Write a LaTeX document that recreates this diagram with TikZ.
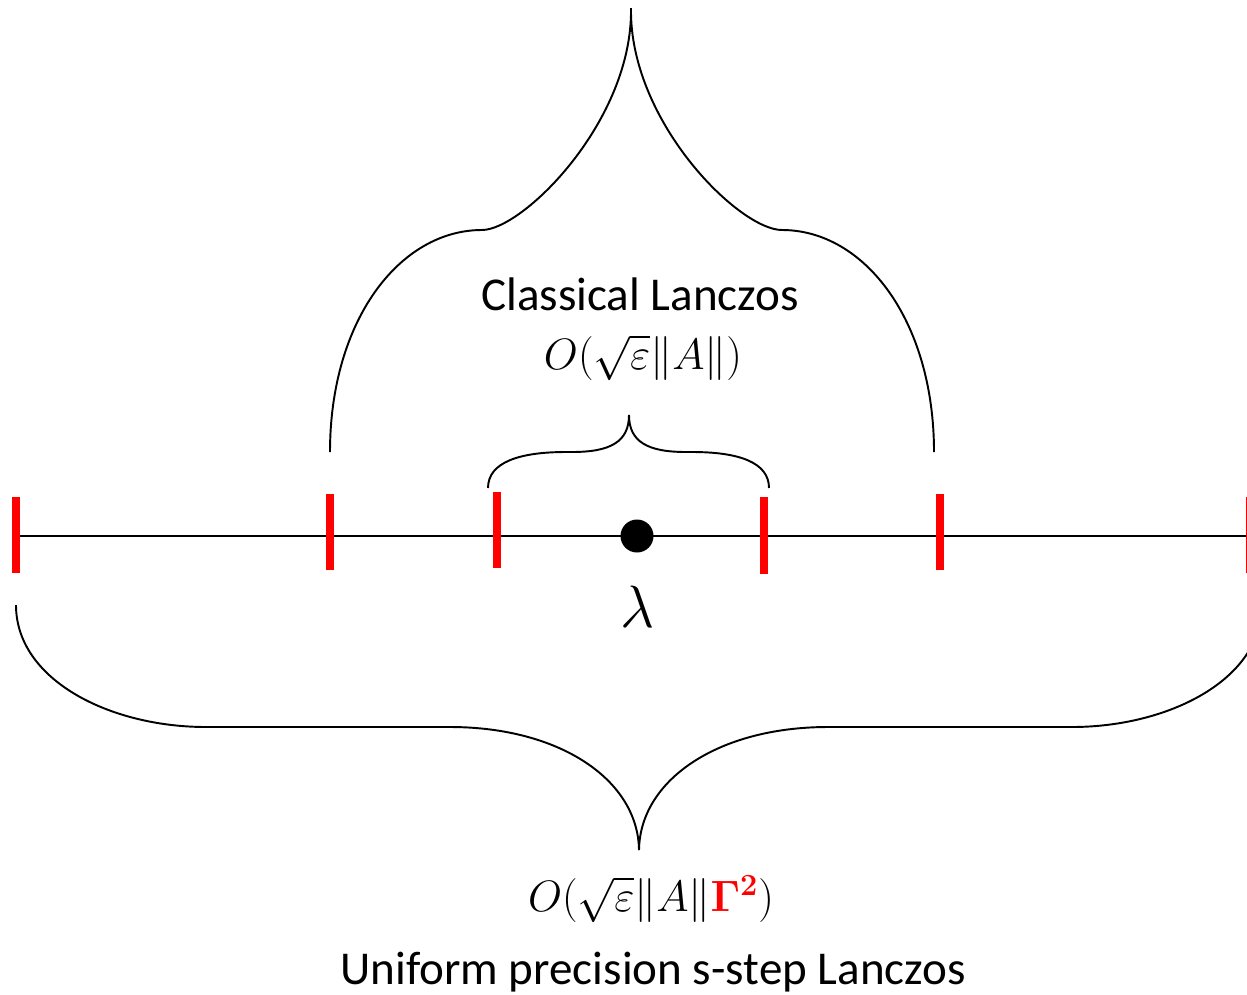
\RequirePackage{fix-cm}
\documentclass[tikz,border=0pt]{standalone}
\usepackage[no-math]{fontspec}
\setmainfont{Carlito}
\definecolor{tickred}{RGB}{255,0,0}
\begin{document}
\begin{tikzpicture}[x=0.02cm,y=-0.02cm,
  brace/.style={draw=black,line width=1.1pt},
  axis/.style={draw=black,line width=1.2pt},
  tickmark/.style={draw=tickred,line width=4.4pt},
  lbl/.style={inner sep=0pt,anchor=base,font=\fontsize{26.8}{32}\selectfont},
  mlbl/.style={inner sep=0pt,anchor=base,font=\fontsize{25}{30}\selectfont}]
\useasboundingbox (0,0) rectangle (1247,994);
\clip (0,0) rectangle (1247,994);
% axis end points
\coordinate (axL) at (16,536);
\coordinate (axR) at (1250,536);
\draw[axis] (axL) -- (axR);
% ticks
\coordinate (t1a) at (16,497);  \coordinate (t1b) at (16,573);
\coordinate (t2a) at (330,494); \coordinate (t2b) at (330,570);
\coordinate (t3a) at (497,492); \coordinate (t3b) at (497,568);
\coordinate (t4a) at (764,497); \coordinate (t4b) at (764,574);
\coordinate (t5a) at (940,494); \coordinate (t5b) at (940,570);
\coordinate (t6a) at (1250,497); \coordinate (t6b) at (1250,573);
\foreach \i in {1,...,6}{\draw[tickmark] (t\i a) -- (t\i b);}
% eigenvalue dot
\node[circle,fill=black,inner sep=0pt,minimum size=0.66cm] (dot) at (637,536) {};
\node[inner sep=0pt,anchor=base,font=\fontsize{34}{40}\selectfont] (lam) at (638,627) {$\lambda$};
% small brace
\coordinate (sL) at (488,488);
\coordinate (sR) at (769,488);
\coordinate (sC) at (629,415);
\draw[brace] (sL) .. controls (488,462) and (520,452) .. (566,452)
  -- (572,452) .. controls (610,452) and (629,442) .. (sC)
  .. controls (629,442) and (648,452) .. (686,452)
  -- (692,452) .. controls (738,452) and (769,462) .. (sR);
% large upper brace
\coordinate (uL) at (330,452);
\coordinate (uR) at (934,452);
\coordinate (uC) at (631,8);
\draw[brace] (uL) .. controls (330,320) and (400,230) .. (482,230)
  .. controls (522,230) and (629,125) .. (631,14) -- (uC);
\draw[brace] (uC) -- (631,14) .. controls (633,125) and (740,230) .. (782,230)
  .. controls (864,230) and (934,320) .. (uR);
% bottom brace
\coordinate (bL) at (16,605);
\coordinate (bR) at (1262,605);
\coordinate (bC) at (639,850);
\draw[brace] (bL) .. controls (16,680) and (110,727) .. (206,727)
  -- (450,727) .. controls (560,727) and (638,780) .. (bC);
\draw[brace] (bC) .. controls (640,780) and (718,727) .. (828,727)
  -- (1072,727) .. controls (1168,727) and (1262,680) .. (bR);
% labels
\node[lbl] (classical) at (640,310) {Classical Lanczos};
\node[mlbl] (topmath) at (643,369) {$O(\sqrt{\varepsilon}\|A\|)$};
\node[mlbl] (botmath) at (651,911) {$O(\sqrt{\varepsilon}\|A\|\textcolor{tickred}{\mathbf{\Gamma}^{\mathbf{2}}})$};
\node[lbl] (uniform) at (653,984) {Uniform precision s-step Lanczos};
\end{tikzpicture}
\end{document}
